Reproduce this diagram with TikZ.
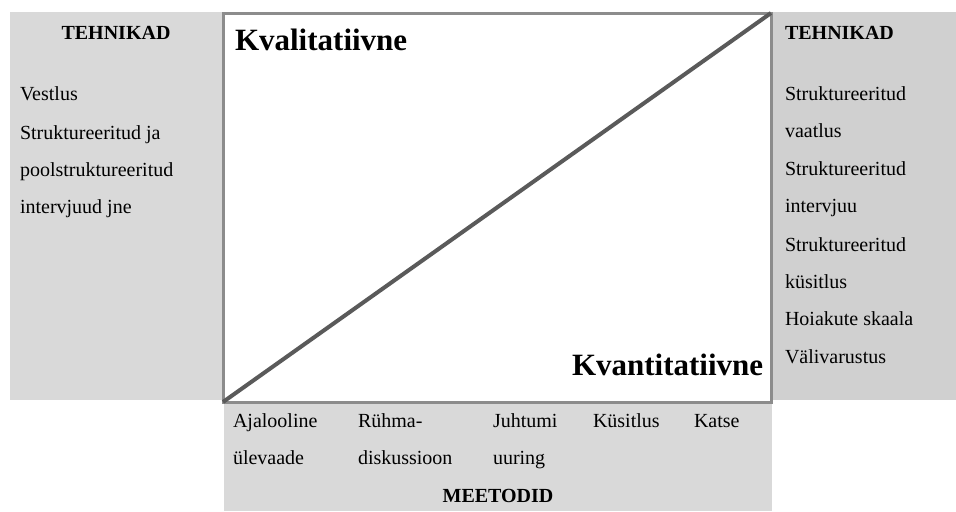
\documentclass[tikz,border=0pt]{standalone}
\usepackage{fontspec}
\setmainfont{Liberation Serif}
\usetikzlibrary{positioning}
\definecolor{panelgray}{RGB}{217, 217, 217}
\definecolor{sidegray}{RGB}{208, 208, 208}
\definecolor{framegray}{RGB}{140, 140, 140}
\definecolor{diaggray}{RGB}{90, 90, 90}

\begin{document}
\begin{tikzpicture}[
  x=0.5pt, y=-0.5pt,
  every node/.style={inner sep=0pt, outer sep=0pt},
  item/.style={font=\fontsize{10}{18.5}\selectfont, align=left, anchor=base west},
  head/.style={font=\bfseries\fontsize{10}{12}\selectfont, anchor=base},
  kind/.style={font=\bfseries\fontsize{15.5}{18}\selectfont, anchor=base west}
]

  % Raam ja taust
  \useasboundingbox (0,0) rectangle (956,511);
  \fill[panelgray] (10,12) rectangle (223,400);
  \fill[sidegray] (772,12) rectangle (956,400);
  \fill[panelgray] (224,402) rectangle (772,511);
  \node[draw=framegray, line width=1.5pt, fill=white, minimum width=274pt, minimum height=194.5pt,
    anchor=north west] (square) at (223,13) {};
  \draw[diaggray, line width=2pt] (square.south west) -- (square.north east);

  % Pealkirjad ruudus
  \node[kind] (kval) at (235,50) {Kvalitatiivne};
  \node[kind] (kvan) at (572,375) {Kvantitatiivne};

  % Vasak paneel: tehnikad (mitmerealise sõlme base = viimase rea alusjoon)
  \node[head] (tehL) at (116,39) {TEHNIKAD};
  \node[item] (vestlus) at (20,100) {Vestlus};
  \node[item] (intervjuud) at (20,213) {Struktureeritud ja\\poolstruktureeritud\\intervjuud jne};

  % Parem paneel: tehnikad
  \node[head, anchor=base west] (tehR) at (785,39) {TEHNIKAD};
  \node[item] (vaatlus) at (785,137) {Struktureeritud\\vaatlus};
  \node[item] (intervjuu) at (785,212) {Struktureeritud\\intervjuu};
  \node[item] (kysitlusR) at (785,288) {Struktureeritud\\küsitlus};
  \node[item] (skaala) at (785,325) {Hoiakute skaala};
  \node[item] (valivarustus) at (785,363) {Välivarustus};

  % Alumine paneel: meetodid
  \node[item] (ajalooline) at (233,464) {Ajalooline\\ülevaade};
  \node[item] (ryhma) at (358,464) {Rühma-\\diskussioon};
  \node[item] (juhtumi) at (493,464) {Juhtumi\\uuring};
  \node[item] (kysitlus) at (593,427) {Küsitlus};
  \node[item] (katse) at (694,427) {Katse};
  \node[head] (meetodid) at (498,502) {MEETODID};

\end{tikzpicture}
\end{document}
